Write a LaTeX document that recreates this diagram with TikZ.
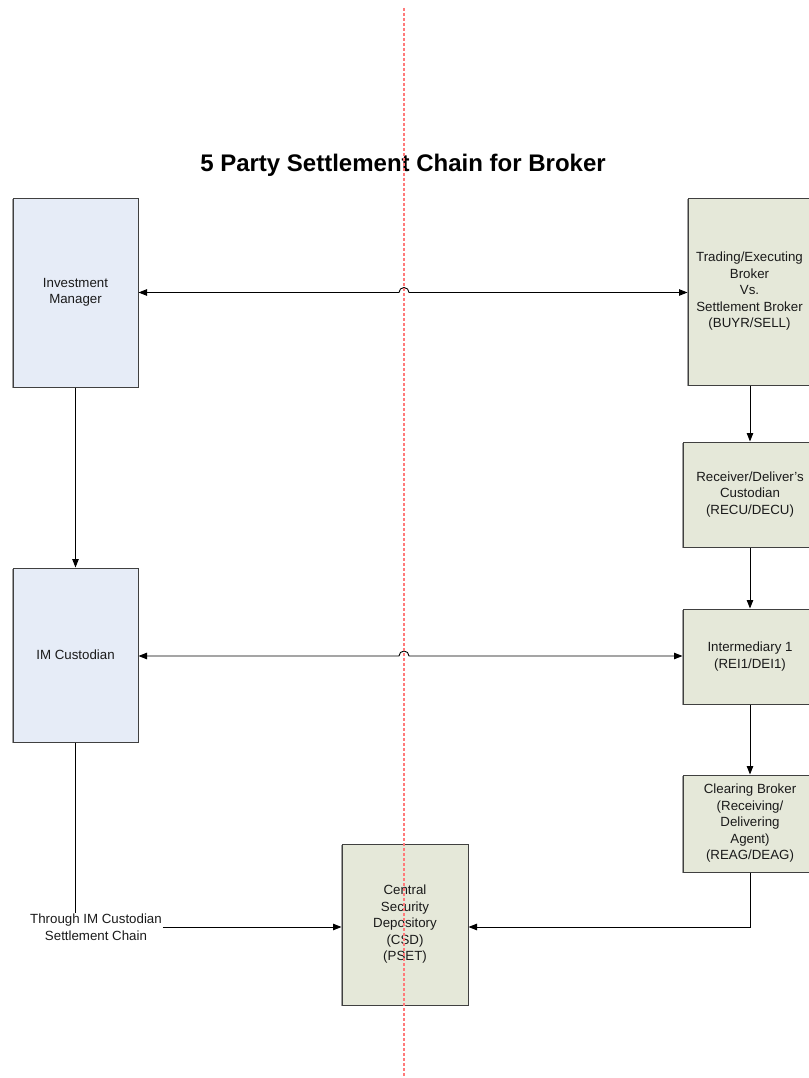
\documentclass[tikz,border=0pt]{standalone}
\usepackage{fontspec}
\setmainfont{Liberation Sans}
\usetikzlibrary{arrows.meta,calc,shadows}
\definecolor{imfill}{HTML}{E6ECF7}
\definecolor{brfill}{HTML}{E5E8D9}
\definecolor{edge}{HTML}{404040}
\definecolor{txt}{HTML}{1A1A1A}
\definecolor{guide}{HTML}{FF7A7A}
\begin{document}
\begin{tikzpicture}[x=1pt,y=-1pt,
  party/.style={draw=edge, line width=1pt, text=txt, align=center, inner sep=2pt,
    font=\fontsize{13.3}{16.5}\selectfont,
    drop shadow={shadow xshift=-1.3pt, shadow yshift=-1.3pt, opacity=1, fill=gray!75}},
  imbox/.style={party, fill=imfill},
  brbox/.style={party, fill=brfill},
  flow/.style={draw=black, line width=0.9pt, -{Triangle[length=8.5pt,width=6.5pt]}},
  twoway/.style={draw=black, line width=0.9pt,
    {Triangle[length=8.5pt,width=6.5pt]}-{Triangle[length=8.5pt,width=6.5pt]}},
  plain/.style={draw=black, line width=0.9pt},
  guideline/.style={draw=guide, line width=2pt, dash pattern=on 3.3pt off 1.7pt}
]
\useasboundingbox (0,0) rectangle (808,1078);

% title
\node[font=\bfseries\fontsize{24}{28}\selectfont, text=black] (title) at (403,165)
  {5 Party Settlement Chain for Broker};

% investment manager side
\node[imbox, minimum width=125pt, minimum height=189pt] (im) at (75.5,292.5)
  {Investment\\Manager};
\node[imbox, minimum width=125pt, minimum height=174pt] (imc) at (75.5,655)
  {IM Custodian};

% broker side
\node[brbox, minimum width=123pt, minimum height=187pt] (tr) at (749.5,291.5)
  {Trading/Executing\\Broker\\Vs.\\Settlement Broker\\(BUYR/SELL)};
\node[brbox, minimum width=134pt, minimum height=105pt] (rc) at (750,494.5)
  {Receiver/Deliver's\\Custodian\\(RECU/DECU)};
\node[brbox, minimum width=134pt, minimum height=95pt] (in) at (750,656.5)
  {Intermediary 1\\(REI1/DEI1)};
\node[brbox, minimum width=134pt, minimum height=97pt] (cb) at (750,823.5)
  {Clearing Broker\\(Receiving/\\Delivering\\Agent)\\(REAG/DEAG)};

% depository
\node[brbox, minimum width=126pt, minimum height=161pt] (csd) at (405,924.5)
  {Central\\Security\\Depository\\(CSD)\\(PSET)};

% free text on the left
\node[text=txt, align=center, inner sep=1pt, font=\fontsize{13.3}{16.5}\selectfont]
  (lbl) at (96,927) {Through IM Custodian\\Settlement Chain};

% line hops where the links cross the divider
\coordinate (h1) at (404,292.5);
\coordinate (h2) at (404,656);
\coordinate (jn) at (750,927);

% two-way links
\draw[twoway] (im.east) -- ([xshift=-5pt]h1) arc[start angle=180,end angle=0,radius=5pt]
  -- (tr.west |- h1);
\draw[twoway] (imc.east |- h2) -- ([xshift=-5pt]h2) arc[start angle=180,end angle=0,radius=5pt]
  -- (in.west |- h2);

% vertical chain
\draw[flow] (im.south) -- (imc.north);
\draw[flow] (tr.south -| rc.north) -- (rc.north);
\draw[flow] (rc.south) -- (in.north);
\draw[flow] (in.south) -- (cb.north);
\draw[plain] (imc.south) -- (imc.south |- lbl.north);
\draw[flow] (lbl.east) -- (lbl.east -| csd.west);
\draw[flow] (cb.south) -- (jn) -- (jn -| csd.east);

% divider
\coordinate (gtop) at (404,8);
\coordinate (gbot) at (404,1077);
\draw[guideline] (gtop) -- (gbot);
\end{tikzpicture}
\end{document}
